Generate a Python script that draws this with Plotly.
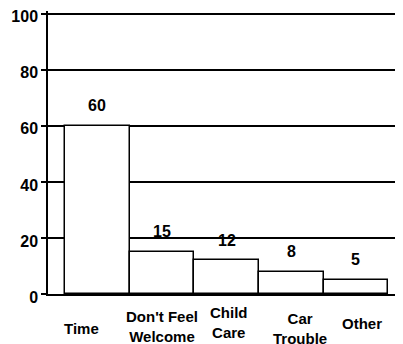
import plotly.graph_objects as go

categories = ["Time", "Don't Feel Welcome", "Child Care", "Car Trouble", "Other"]
values = [60, 15, 12, 8, 5]
cat_labels = ["Time", "Don't Feel<br>Welcome", "Child<br>Care", "Car<br>Trouble", "Other"]
y_ticks = [0, 20, 40, 60, 80, 100]

# label placement tweaks (pixels) to mimic the scanned original
label_dx = [-16, 0, 2, 9, 6]
label_dy = [-34, -32, -28, -34, -29]

FONT = "Liberation Sans, Arial, sans-serif"

fig = go.Figure()
fig.add_trace(go.Bar(
    x=categories, y=values,
    marker=dict(color="white", line=dict(color="black", width=1.5)),
    width=1.0,
    hoverinfo="skip",
))

annotations = []
for c, v in zip(categories, values):
    annotations.append(dict(
        x=c, y=v, xref="x", yref="y", text=f"<b>{v}</b>", showarrow=False,
        yanchor="middle", xanchor="center", yshift=20,
        font=dict(family=FONT, size=16, color="black"),
    ))
for c, lab, dx, dy in zip(categories, cat_labels, label_dx, label_dy):
    annotations.append(dict(
        x=c, y=0, xref="x", yref="y", text="<b>" + lab + "</b>", showarrow=False,
        yanchor="middle", xanchor="center", xshift=dx, yshift=dy,
        font=dict(family=FONT, size=15, color="black"),
    ))

# the page body has an 8px margin, so the figure is sized/margined to compensate
fig.update_layout(
    width=395, height=336,
    margin=dict(l=40, r=0, t=3, b=50, autoexpand=False),
    paper_bgcolor="white", plot_bgcolor="white",
    showlegend=False,
    bargap=0,
    annotations=annotations,
    xaxis=dict(
        range=[-0.763, 4.73], automargin=False,
        showticklabels=False, ticks="", showgrid=False,
        showline=True, linecolor="black", linewidth=1.5,
        zeroline=False,
    ),
    yaxis=dict(
        range=[0, 101], tickvals=y_ticks, automargin=False,
        showgrid=True, gridcolor="black", gridwidth=1.5,
        showline=True, linecolor="black", linewidth=1.5,
        ticks="outside", ticklen=5, tickcolor="black", tickwidth=1.5,
        tickfont=dict(family=FONT, size=16, color="black", weight="bold"),
        ticklabeloverflow="allow", ticklabelshift=3,
        zeroline=False,
    ),
)

fig.write_html("out.html")
